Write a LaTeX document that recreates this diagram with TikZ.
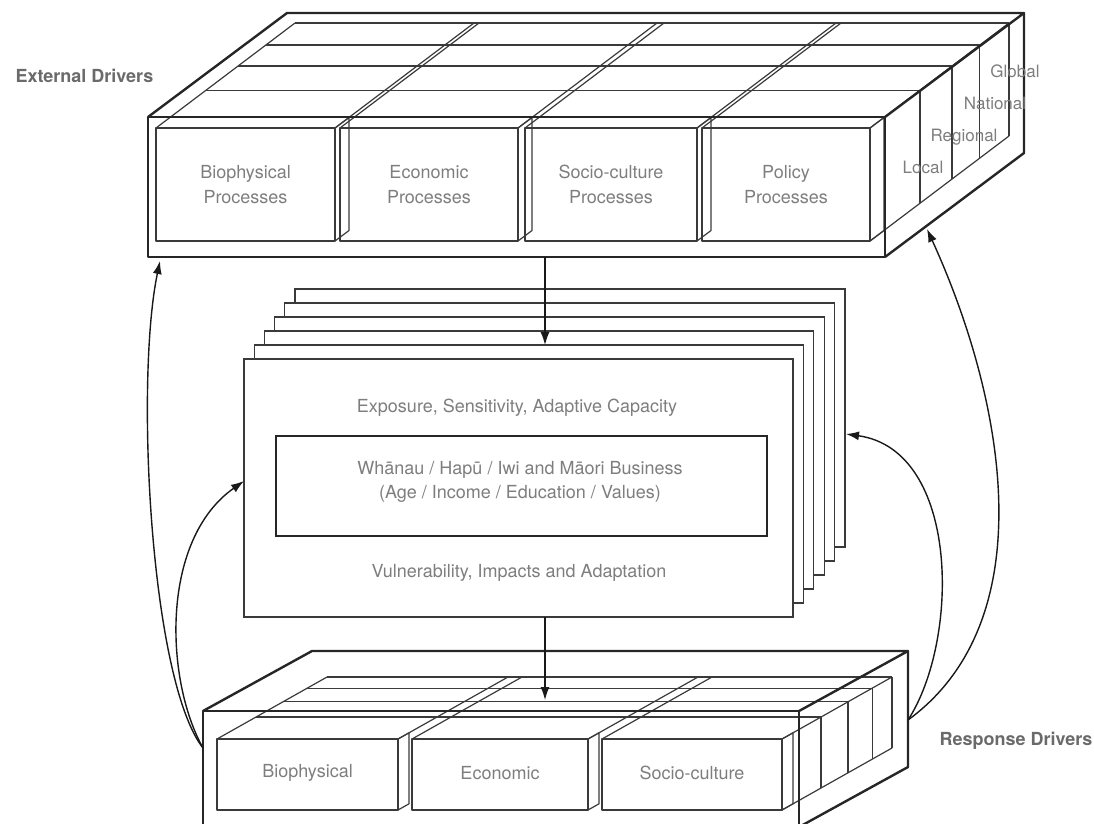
\documentclass[tikz,border=0pt]{standalone}
\usepackage{fontspec}
\setmainfont{TeX Gyre Heros}
\usetikzlibrary{arrows.meta}
\definecolor{inkgray}{HTML}{7E7E7E}
\definecolor{labelgray}{HTML}{6A6A6A}
\definecolor{linegray}{HTML}{3A3A3A}

\begin{document}
\begin{tikzpicture}[x=1pt, y=-1pt,
  frame/.style={line width=2.4pt, black!85, line join=round},
  slab/.style={line width=1.2pt, linegray, line join=round},
  page/.style={draw=linegray, line width=1.2pt, fill=white},
  flow/.style={line width=1.4pt, black!90, -{Latex[length=13pt, width=9pt]}},
  proc/.style={text=inkgray, align=center, font=\fontsize{18}{24.5}\selectfont},
  scalelbl/.style={text=inkgray, font=\fontsize{17}{20}\selectfont},
  driver/.style={text=labelgray, font=\fontsize{18}{20}\selectfont\bfseries}
]
\useasboundingbox (0,0) rectangle (1094,823);
\clip (0,0) rectangle (1094,823);

% External drivers: slab layers on top and right faces
\foreach \t in {0.36,0.59,0.79,1} {
  \draw[slab] (156+139*\t, 128-105*\t) -- (870+139*\t, 128-105*\t);
  \draw[slab] (870+139*\t, 128-105*\t) -- (870+139*\t, 241-105*\t);
}
\draw[slab] (870,241) -- ++(139,-105);

% External drivers: process blocks
\foreach \xa/\xb in {156/335, 340/518, 525/697, 702/870} {
  \draw[slab] (\xa,128) -- ++(139,-105);
  \draw[slab] (\xb,128) -- ++(139,-105);
  \draw[slab] (\xb,128) -- ++(14,-10.5) -- ++(0,113) -- (\xb,241);
  \draw[slab] (\xa,128) rectangle (\xb,241);
}

% External drivers: outer frame
\draw[frame] (148,117) rectangle (885,257);
\draw[frame] (148,117) -- (287,13) -- (1024,13) -- (885,117);
\draw[frame] (1024,13) -- (1024,153) -- (885,257);

\node[proc] (bioproc) at (245.5,184.5) {Biophysical\\Processes};
\node[proc] (ecoproc) at (429,184.5) {Economic\\Processes};
\node[proc] (socproc) at (611,184.5) {Socio-culture\\Processes};
\node[proc] (polproc) at (786,184.5) {Policy\\Processes};

% Scale labels on the right face
\node[scalelbl] (local) at (923,167) {Local};
\node[scalelbl] (regional) at (964,137) {Regional};
\node[scalelbl] (national) at (995,103) {National};
\node[scalelbl] (global) at (1015,71) {Global};

% Response drivers: slab layers on top and right faces
\foreach \t in {0.355,0.6,0.82,1} {
  \draw[slab] (217+110*\t, 739-62*\t) -- (782+110*\t, 739-62*\t);
  \draw[slab] (782+110*\t, 739-62*\t) -- (782+110*\t, 810-62*\t);
}
\draw[slab] (782,810) -- ++(110,-62);

% Response drivers: blocks
\foreach \xa/\xb in {217/398, 412/588, 602/782} {
  \draw[slab] (\xa,739) -- ++(110,-62);
  \draw[slab] (\xb,739) -- ++(110,-62);
  \draw[slab] (\xb,739) -- ++(11,-6.2) -- ++(0,71) -- (\xb,810);
  \draw[slab] (\xa,739) rectangle (\xb,810);
}

% Response drivers: outer frame
\draw[frame] (203,711) rectangle (799,827);
\draw[frame] (203,711) -- (312,651) -- (908,651) -- (799,711);
\draw[frame] (908,651) -- (908,767) -- (799,827);

\node[proc] (bioresp) at (307.5,773) {Biophysical};
\node[proc] (ecoresp) at (500,773) {Economic};
\node[proc] (socresp) at (692,773) {Socio-culture};

% Stack of community pages
\foreach \k in {5,...,1}
  \draw[page] (244+10.2*\k, 359-14*\k) rectangle (793+10.4*\k, 617-14*\k);
\node[page, minimum width=549pt, minimum height=258pt, inner sep=0pt] (core) at (518.5,488) {};
\node[draw=black!85, line width=1.9pt, minimum width=491pt, minimum height=100pt, inner sep=0pt] (unit) at (521.5,486) {};

\node[proc] (exposure) at (517,408) {Exposure, Sensitivity, Adaptive Capacity};
\node[proc] (whanau) at (520,482) {Whānau / Hapū / Iwi and Māori Business\\(Age / Income / Education / Values)};
\node[proc] (vulner) at (519,573) {Vulnerability, Impacts and Adaptation};

% Driver labels
\node[driver, anchor=west] (extlbl) at (12,76) {External Drivers};
\node[driver, anchor=west] (resplbl) at (936,741) {Response Drivers};

% Arrow end points
\coordinate (ext-out) at (545,257);
\coordinate (core-in) at (545,345);
\coordinate (core-out) at (545,617);
\coordinate (resp-in) at (545,700);
\coordinate (resp-west) at (203,748);
\coordinate (resp-east) at (908,720);
\coordinate (ext-sw) at (160,261);
\coordinate (ext-se) at (927,229);
\coordinate (core-w) at (244,481);
\coordinate (core-e) at (846,434);

% Flows
\draw[flow] (ext-out) -- (core-in);
\draw[flow] (core-out) -- (resp-in);
\draw[flow] (resp-west) .. controls (150,680) and (135,380) .. (ext-sw);
\draw[flow] (resp-west) .. controls (165,680) and (160,540) .. (core-w);
\draw[flow] (resp-east) .. controls (960,640) and (960,450) .. (core-e);
\draw[flow] (resp-east) .. controls (1045,620) and (1005,400) .. (ext-se);

\end{tikzpicture}
\end{document}
